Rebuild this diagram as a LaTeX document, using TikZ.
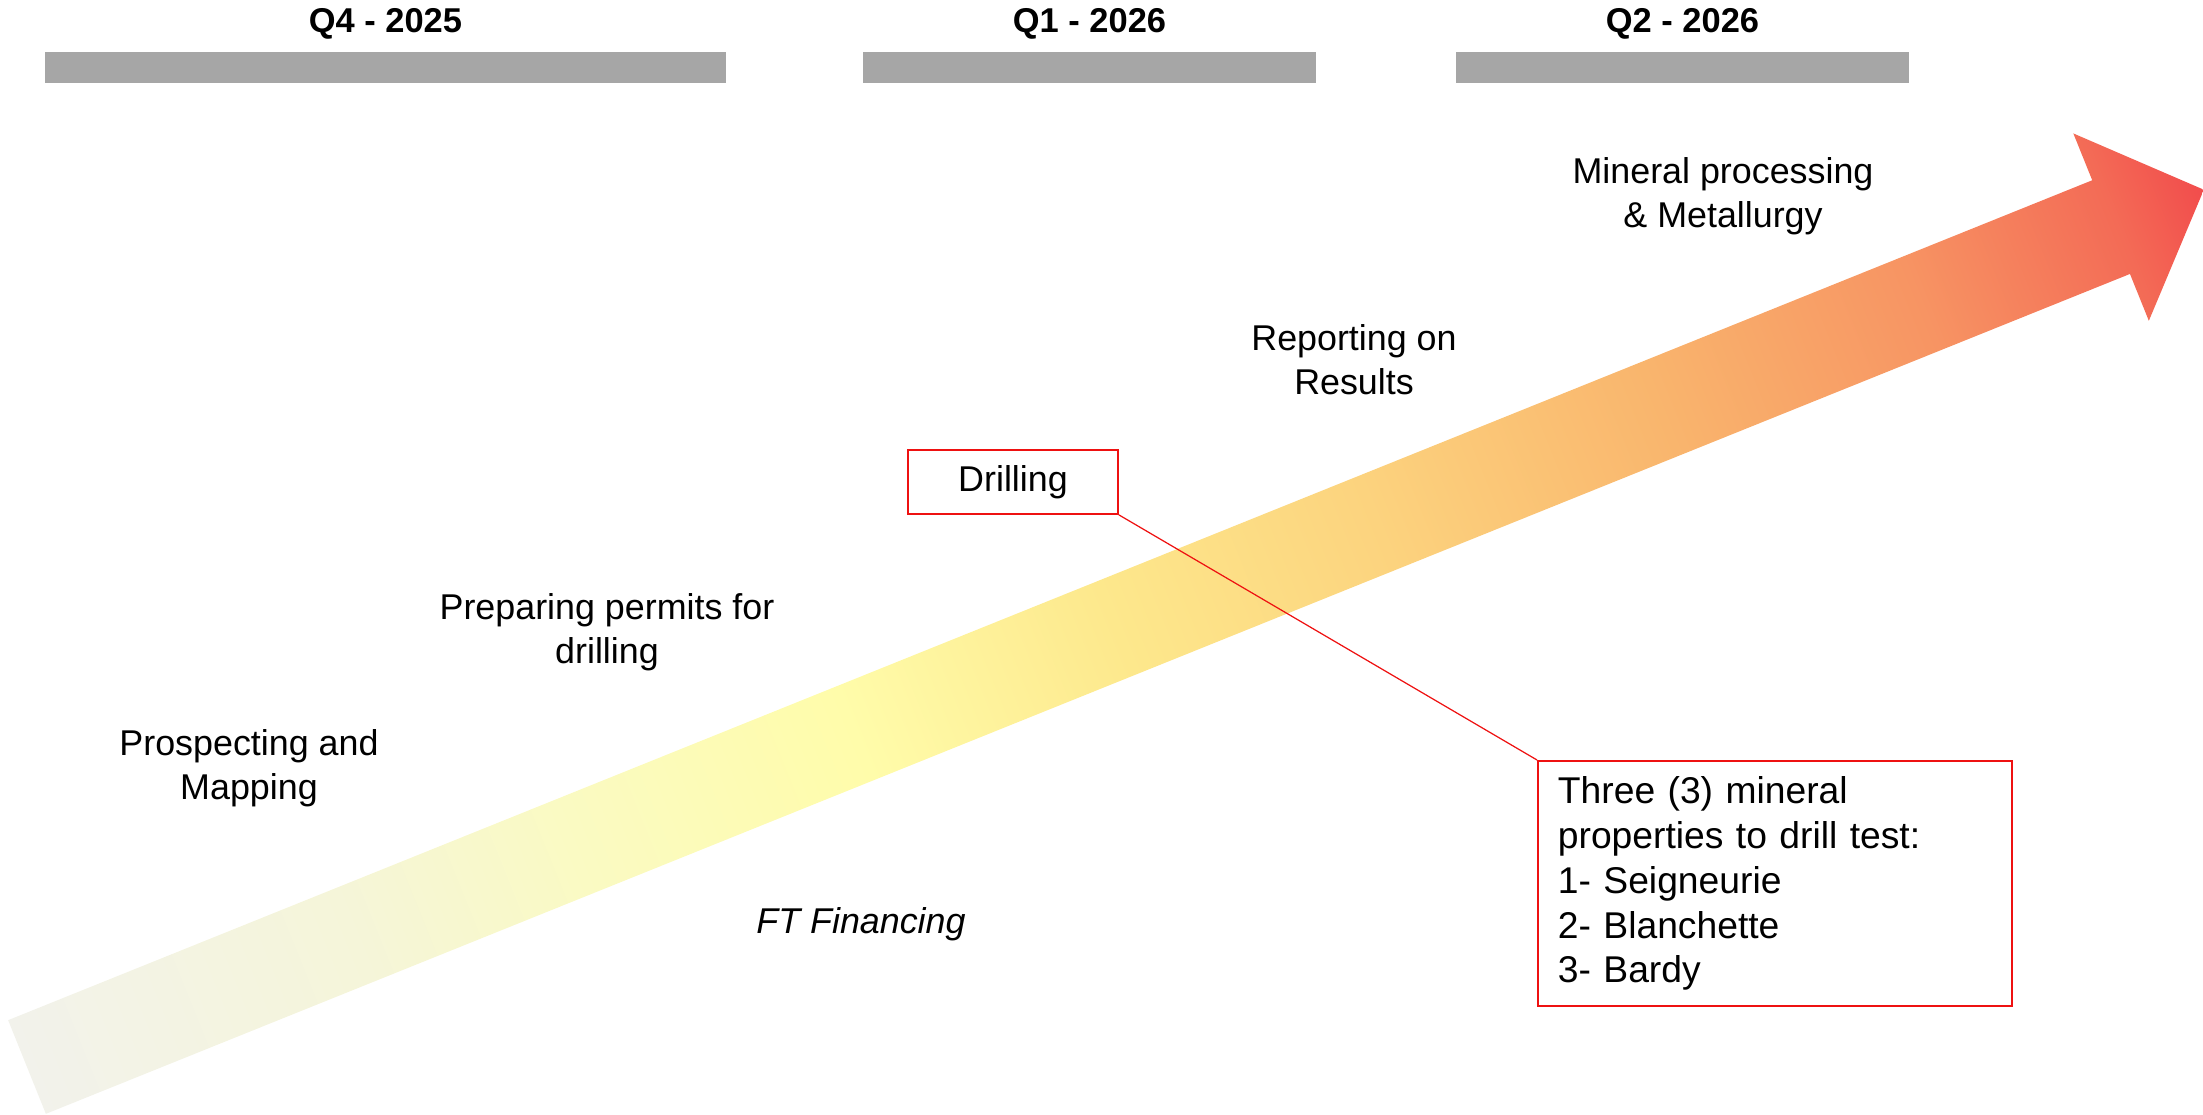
\documentclass[tikz,border=0pt]{standalone}
\usepackage{fontspec}
\setmainfont{Liberation Sans}
\usetikzlibrary{positioning}

\definecolor{barGray}{HTML}{A6A6A6}
\definecolor{boxRed}{HTML}{EE1111}
\definecolor{af0}{HTML}{F2F2EB}
\definecolor{af1}{HTML}{F5F5D9}
\definecolor{af2}{HTML}{FAFAC3}
\definecolor{af3}{HTML}{FFFCAA}
\definecolor{af4}{HTML}{FDE88C}
\definecolor{af5}{HTML}{FCD37E}
\definecolor{af6}{HTML}{F9B56D}
\definecolor{af7}{HTML}{F79463}
\definecolor{af8}{HTML}{F36B56}
\definecolor{af9}{HTML}{F24C4C}
\pgfdeclarehorizontalshading{arrowfade}{100bp}{color(0bp)=(af0); color(25bp)=(af0);
  color(32.5bp)=(af1); color(37.5bp)=(af2); color(44bp)=(af3); color(50bp)=(af4);
  color(56bp)=(af5); color(62.5bp)=(af6); color(68.5bp)=(af7); color(73bp)=(af8);
  color(75bp)=(af9); color(100bp)=(af9)}

\begin{document}
\begin{tikzpicture}[
  semithick,
  qbar/.style={rectangle,fill=barGray,minimum height=0.31cm,inner sep=0pt},
  qlbl/.style={font=\fontsize{9.8}{12}\selectfont\bfseries,inner sep=0pt},
  phase/.style={align=center,font=\fontsize{10.2}{12.6}\selectfont,inner sep=0pt},
  redbox/.style={rectangle,draw=boxRed,line width=0.5pt},
  link/.style={draw=boxRed,line width=0.35pt}
]
  \useasboundingbox (0,0) rectangle (22.03,11.14);

  % big timeline arrow
  \begin{scope}[transform canvas={shift={(0.27,0.47)},rotate=21.95}]
    \shade[shading=arrowfade] (0,-0.505) -- (22.47,-0.505) -- (22.47,-1.01) -- (23.47,0)
      -- (22.47,1.01) -- (22.47,0.505) -- (0,0.505) -- cycle;
  \end{scope}

  % quarters
  \node[qbar,minimum width=6.81cm](q4bar) at (3.855,10.465){};
  \node[qbar,minimum width=4.53cm](q1bar) at (10.895,10.465){};
  \node[qbar,minimum width=4.53cm](q2bar) at (16.825,10.465){};
  \node[qlbl,above=0.18cm of q4bar,anchor=base](q4){Q4 - 2025};
  \node[qlbl,above=0.18cm of q1bar,anchor=base](q1){Q1 - 2026};
  \node[qlbl,above=0.18cm of q2bar,anchor=base](q2){Q2 - 2026};

  % phases
  \node[phase](prospect) at (2.49,3.46){Prospecting and\\Mapping};
  \node[phase](permit) at (6.07,4.82){Preparing permits for\\drilling};
  \node[phase](report) at (13.54,7.54){Reporting on\\Results};
  \node[phase](mineral) at (17.23,9.18){Mineral processing\\\& Metallurgy};
  \node[phase,anchor=base,font=\fontsize{10.2}{12.6}\selectfont\itshape](ft) at (8.61,1.81){FT Financing};

  \node[redbox,font=\fontsize{10.2}{12.6}\selectfont,minimum width=2.1cm,minimum height=0.64cm](drill) at (10.13,6.32){Drilling};
  \node[redbox,font=\fontsize{10.6}{12.8}\selectfont,anchor=north west,text width=4.34cm,inner xsep=0.2cm,minimum height=2.45cm,align=left](props) at (15.37,3.54)
    {Three (3) mineral\\properties to drill test:\\1- Seigneurie\\2- Blanchette\\3- Bardy};
  \path
    (drill.south east) edge[link] (props.north west)
  ;
\end{tikzpicture}
\end{document}
